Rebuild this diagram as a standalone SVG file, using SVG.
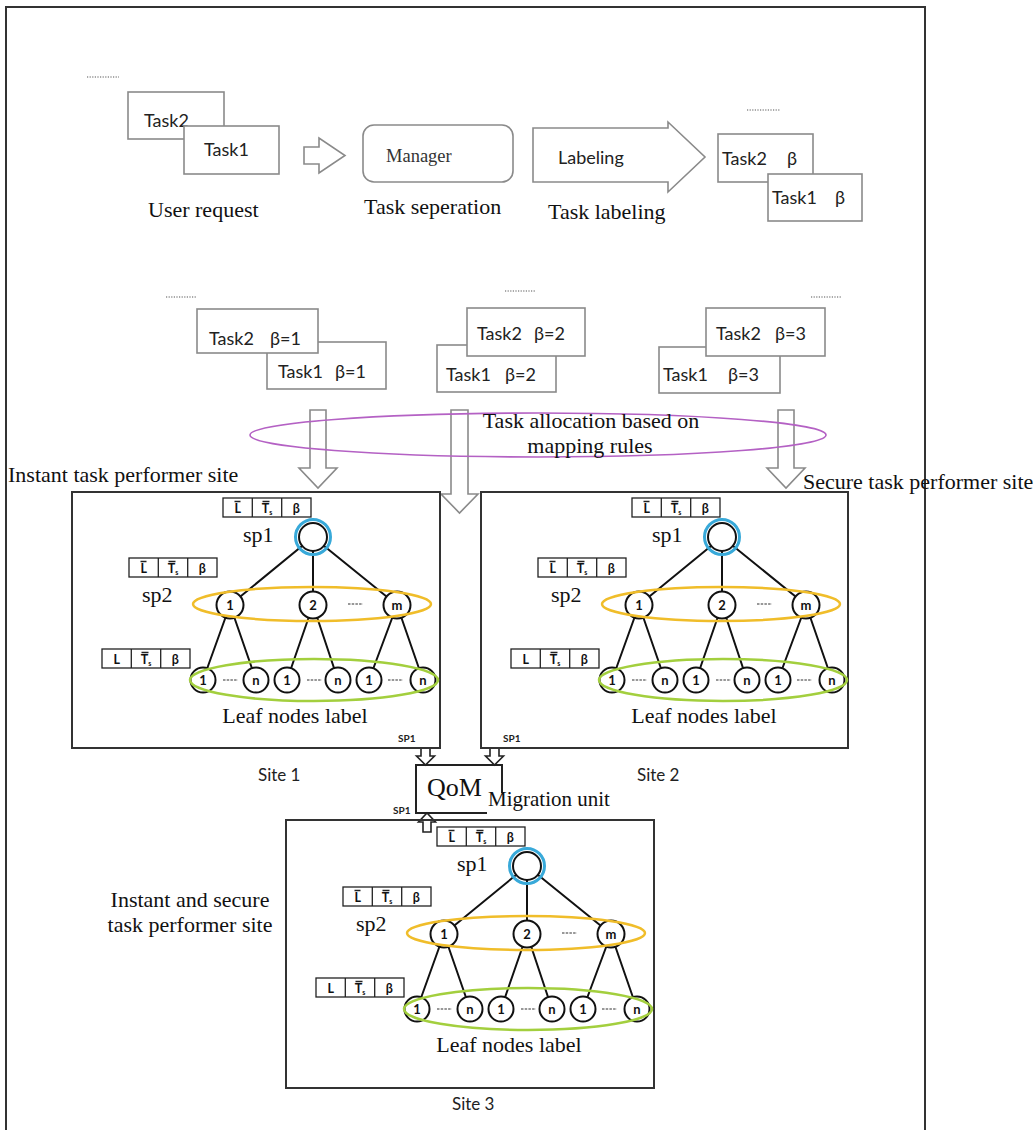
<svg xmlns="http://www.w3.org/2000/svg" xmlns:xlink="http://www.w3.org/1999/xlink" width="1036" height="1130" viewBox="0 0 1036 1130">
<style>
.tb{fill:#fff;stroke:#8a8a8a;stroke-width:1.6}
.ha{fill:#fff;stroke:#8a8a8a;stroke-width:1.6}
.sa{fill:#fff;stroke:#222;stroke-width:1.6}
.tk{font-family:Lato,'Noto Sans',sans-serif;font-size:18px;fill:#222}
.cap{font-family:'Liberation Serif',serif;font-size:22px;fill:#111}
.site{fill:none;stroke:#333;stroke-width:2}
.lbt{font-family:Lato,'Noto Sans',sans-serif;font-size:12.5px;font-weight:bold;text-anchor:middle;fill:#111}
.e{stroke:#111;stroke-width:2;fill:none}
.nd{fill:#fff;stroke:#111;stroke-width:2}
.nl{font-family:Lato,'Noto Sans',sans-serif;font-size:13px;font-weight:bold;text-anchor:middle;fill:#111}
.og{fill:none;stroke:#f0bd2a;stroke-width:2.5}
.gr{fill:none;stroke:#a3cf3e;stroke-width:2.5}
.bl{fill:none;stroke:#38a9d9;stroke-width:3}
.dash{stroke:#333;stroke-width:1.2;stroke-dasharray:2.5 1.2;fill:none}
.dots{stroke:#555;stroke-width:1.2;stroke-dasharray:1.2 1.4;fill:none}
.spl{font-family:Lato,'Noto Sans',sans-serif;font-weight:bold;font-size:10px;fill:#222}
.sp{font-family:'Liberation Serif',serif;font-size:22px;fill:#111}
.site-t{font-family:Lato,'Noto Sans',sans-serif;font-size:17px;fill:#222}
</style>
<defs>
<g id="lbA"><rect width="88" height="19" fill="#fff" stroke="#222" stroke-width="1.3"/><path d="M29.3 0V19M58.7 0V19M11.5 3.5h6M39.5 3.5h7" stroke="#222" stroke-width="1.3" fill="none"/></g>
<g id="lbB"><rect width="88" height="19" fill="#fff" stroke="#222" stroke-width="1.3"/><path d="M29.3 0V19M58.7 0V19M39.5 3.5h7" stroke="#222" stroke-width="1.3" fill="none"/></g>
</defs>

<path d="M6 1130V7H925V1130" fill="none" stroke="#333" stroke-width="2"/>

<g id="user-request">
<path class="dots" d="M87 77H119"/>
<rect class="tb" x="128" y="92" width="96" height="47"/>
<text class="tk" x="144" y="127">Task2</text>
<rect class="tb" x="184" y="126" width="95" height="48"/>
<text class="tk" x="204" y="156">Task1</text>
<text class="cap" x="148" y="217">User request</text>
</g>

<g id="manager">
<rect class="tb" x="363" y="125" width="150" height="57" rx="11"/>
<text x="386" y="162" font-family="'Liberation Serif',serif" font-size="18.5" fill="#333">Manager</text>
<text class="cap" x="364" y="214">Task seperation</text>
</g>

<g id="labeling">
<path class="ha" d="M533 128H668V122L705 157L668 192V182H533Z"/>
<text x="558" y="164" font-family="Lato,'Noto Sans',sans-serif" font-size="18" fill="#222">Labeling</text>
<text class="cap" x="548" y="219">Task labeling</text>
</g>

<g id="labeled-tasks">
<path class="dots" d="M747 110H780"/>
<rect class="tb" x="718" y="134" width="95" height="48"/>
<text class="tk" y="165"><tspan x="722">Task2</tspan><tspan x="787">β</tspan></text>
<rect class="tb" x="768" y="174" width="94" height="47"/>
<text class="tk" y="204"><tspan x="772">Task1</tspan><tspan x="835">β</tspan></text>
</g>

<g id="tasks-beta1">
<path class="dots" d="M166 297H197"/>
<rect class="tb" x="267" y="342" width="119" height="47"/>
<rect class="tb" x="197" y="309" width="121" height="44"/>
<text class="tk" y="345"><tspan x="209">Task2</tspan><tspan x="270">β=1</tspan></text>
<text class="tk" y="378"><tspan x="278">Task1</tspan><tspan x="335">β=1</tspan></text>
</g>

<g id="tasks-beta2">
<path class="dots" d="M505 291H536"/>
<rect class="tb" x="437" y="345" width="119" height="47"/>
<rect class="tb" x="467" y="308" width="118" height="48"/>
<text class="tk" y="340"><tspan x="477">Task2</tspan><tspan x="534">β=2</tspan></text>
<text class="tk" y="381"><tspan x="446">Task1</tspan><tspan x="505">β=2</tspan></text>
</g>

<g id="tasks-beta3">
<path class="dots" d="M811 297H842"/>
<rect class="tb" x="659" y="347" width="121" height="46"/>
<rect class="tb" x="706" y="308" width="119" height="48"/>
<text class="tk" y="340"><tspan x="716">Task2</tspan><tspan x="775">β=3</tspan></text>
<text class="tk" y="381"><tspan x="663">Task1</tspan><tspan x="728">β=3</tspan></text>
</g>

<g id="connectors">
<path class="ha" d="M304 147H319V138L345 155.5L319 173V164H304Z"/>
<path class="ha" d="M310 410V468H299L318 488L337 468H326V410Z"/>
<path class="ha" d="M451 410V494H441L459.5 513L478 494H468V410Z"/>
<path class="ha" d="M778 410V468H767L786 488L805 468H794V410Z"/>
<path class="sa" d="M421 748V756H416.5L425.5 765L434.5 756H430V748Z"/>
<path class="sa" d="M490 748V756H485.5L494.5 765L503.5 756H499V748Z"/>
<path class="sa" d="M423 832V822H418.5L427 813L435.5 822H431V832Z"/>
</g>

<g id="allocation">
<ellipse cx="538" cy="435" rx="288" ry="22" fill="none" stroke="#b461c4" stroke-width="1.6"/>
<text class="cap" x="591" y="428" text-anchor="middle">Task allocation based on</text>
<text class="cap" x="590" y="453" text-anchor="middle">mapping rules</text>
</g>

<text class="cap" x="8" y="482">Instant task performer site</text>
<text class="cap" x="803" y="489">Secure task performer site</text>

<g id="site1">
<rect class="site" x="72" y="492" width="368" height="256"/>
<use href="#lbA" x="223" y="498"/>
<text class="lbt" y="513"><tspan x="237.7">L</tspan><tspan x="267">T<tspan font-size="7" dy="2">s</tspan></tspan><tspan x="296.3" dy="-2">β</tspan></text>
<use href="#lbA" x="129" y="558"/>
<text class="lbt" y="573"><tspan x="143.7">L</tspan><tspan x="173">T<tspan font-size="7" dy="2">s</tspan></tspan><tspan x="202.3" dy="-2">β</tspan></text>
<use href="#lbB" x="102" y="649"/>
<text class="lbt" y="664"><tspan x="116.7">L</tspan><tspan x="146">T<tspan font-size="7" dy="2">s</tspan></tspan><tspan x="175.3" dy="-2">β</tspan></text>
<text class="sp" x="243" y="542">sp1</text>
<text class="sp" x="142" y="602">sp2</text>
<path class="e" d="M313 537L230 605M313 537V605M313 537L397 605M230 605L203 680M230 605L256 680M313 605L287 680M313 605L338 680M397 605L369 680M397 605L423 680"/>
<circle class="nd" cx="313" cy="537" r="14"/>
<circle class="bl" cx="313" cy="537" r="17.5"/>
<circle class="nd" cx="230" cy="605" r="13.5"/><text class="nl" x="230" y="609.5">1</text>
<circle class="nd" cx="313" cy="605" r="13.5"/><text class="nl" x="313" y="609.5">2</text>
<circle class="nd" cx="397" cy="605" r="13.5"/><text class="nl" x="397" y="609.5">m</text>
<circle class="nd" cx="203" cy="680" r="12.5"/><text class="nl" x="203" y="684.5">1</text>
<circle class="nd" cx="256" cy="680" r="12.5"/><text class="nl" x="256" y="684.5">n</text>
<circle class="nd" cx="287" cy="680" r="12.5"/><text class="nl" x="287" y="684.5">1</text>
<circle class="nd" cx="338" cy="680" r="12.5"/><text class="nl" x="338" y="684.5">n</text>
<circle class="nd" cx="369" cy="680" r="12.5"/><text class="nl" x="369" y="684.5">1</text>
<circle class="nd" cx="423" cy="680" r="12.5"/><text class="nl" x="423" y="684.5">n</text>
<path class="dash" d="M348 604h15M223 680h15M307 680h15M388 680h15"/>
<ellipse class="og" cx="312" cy="604" rx="119" ry="17"/>
<ellipse class="gr" cx="314" cy="680" rx="124" ry="21"/>
<text class="cap" x="295" y="723" text-anchor="middle">Leaf nodes label</text>
<text class="spl" x="398" y="742">SP1</text>
<text class="site-t" x="258" y="781">Site 1</text>
</g>

<g id="site2">
<rect class="site" x="481" y="492" width="367" height="256"/>
<use href="#lbA" x="632" y="498"/>
<text class="lbt" y="513"><tspan x="646.7">L</tspan><tspan x="676">T<tspan font-size="7" dy="2">s</tspan></tspan><tspan x="705.3" dy="-2">β</tspan></text>
<use href="#lbA" x="538" y="558"/>
<text class="lbt" y="573"><tspan x="552.7">L</tspan><tspan x="582">T<tspan font-size="7" dy="2">s</tspan></tspan><tspan x="611.3" dy="-2">β</tspan></text>
<use href="#lbB" x="511" y="649"/>
<text class="lbt" y="664"><tspan x="525.7">L</tspan><tspan x="555">T<tspan font-size="7" dy="2">s</tspan></tspan><tspan x="584.3" dy="-2">β</tspan></text>
<text class="sp" x="652" y="542">sp1</text>
<text class="sp" x="551" y="602">sp2</text>
<path class="e" d="M722 537L639 605M722 537V605M722 537L806 605M639 605L612 680M639 605L665 680M722 605L696 680M722 605L747 680M806 605L778 680M806 605L832 680"/>
<circle class="nd" cx="722" cy="537" r="14"/>
<circle class="bl" cx="722" cy="537" r="17.5"/>
<circle class="nd" cx="639" cy="605" r="13.5"/><text class="nl" x="639" y="609.5">1</text>
<circle class="nd" cx="722" cy="605" r="13.5"/><text class="nl" x="722" y="609.5">2</text>
<circle class="nd" cx="806" cy="605" r="13.5"/><text class="nl" x="806" y="609.5">m</text>
<circle class="nd" cx="612" cy="680" r="12.5"/><text class="nl" x="612" y="684.5">1</text>
<circle class="nd" cx="665" cy="680" r="12.5"/><text class="nl" x="665" y="684.5">n</text>
<circle class="nd" cx="696" cy="680" r="12.5"/><text class="nl" x="696" y="684.5">1</text>
<circle class="nd" cx="747" cy="680" r="12.5"/><text class="nl" x="747" y="684.5">n</text>
<circle class="nd" cx="778" cy="680" r="12.5"/><text class="nl" x="778" y="684.5">1</text>
<circle class="nd" cx="832" cy="680" r="12.5"/><text class="nl" x="832" y="684.5">n</text>
<path class="dash" d="M757 604h15M632 680h15M716 680h15M797 680h15"/>
<ellipse class="og" cx="721" cy="604" rx="119" ry="17"/>
<ellipse class="gr" cx="723" cy="680" rx="124" ry="21"/>
<text class="cap" x="704" y="723" text-anchor="middle">Leaf nodes label</text>
<text class="spl" x="503" y="742">SP1</text>
<text class="site-t" x="637" y="781">Site 2</text>
</g>

<g id="qom">
<path d="M487 813H416V765H502V793" fill="none" stroke="#222" stroke-width="2"/>
<text x="427" y="796" font-family="'Liberation Serif',serif" font-size="26" fill="#111">QoM</text>
<text x="488" y="806" font-family="'Liberation Serif',serif" font-size="21" fill="#111">Migration unit</text>
</g>

<g id="site3">
<rect class="site" x="286" y="820" width="368" height="268"/>
<use href="#lbA" x="437" y="827"/>
<text class="lbt" y="842"><tspan x="451.7">L</tspan><tspan x="481">T<tspan font-size="7" dy="2">s</tspan></tspan><tspan x="510.3" dy="-2">β</tspan></text>
<use href="#lbA" x="343" y="887"/>
<text class="lbt" y="902"><tspan x="357.7">L</tspan><tspan x="387">T<tspan font-size="7" dy="2">s</tspan></tspan><tspan x="416.3" dy="-2">β</tspan></text>
<use href="#lbB" x="316" y="978"/>
<text class="lbt" y="993"><tspan x="330.7">L</tspan><tspan x="360">T<tspan font-size="7" dy="2">s</tspan></tspan><tspan x="389.3" dy="-2">β</tspan></text>
<text class="sp" x="457" y="871">sp1</text>
<text class="sp" x="356" y="931">sp2</text>
<path class="e" d="M527 866L444 934M527 866V934M527 866L611 934M444 934L417 1009M444 934L470 1009M527 934L501 1009M527 934L552 1009M611 934L583 1009M611 934L637 1009"/>
<circle class="nd" cx="527" cy="866" r="14"/>
<circle class="bl" cx="527" cy="866" r="17.5"/>
<circle class="nd" cx="444" cy="934" r="13.5"/><text class="nl" x="444" y="938.5">1</text>
<circle class="nd" cx="527" cy="934" r="13.5"/><text class="nl" x="527" y="938.5">2</text>
<circle class="nd" cx="611" cy="934" r="13.5"/><text class="nl" x="611" y="938.5">m</text>
<circle class="nd" cx="417" cy="1009" r="12.5"/><text class="nl" x="417" y="1013.5">1</text>
<circle class="nd" cx="470" cy="1009" r="12.5"/><text class="nl" x="470" y="1013.5">n</text>
<circle class="nd" cx="501" cy="1009" r="12.5"/><text class="nl" x="501" y="1013.5">1</text>
<circle class="nd" cx="552" cy="1009" r="12.5"/><text class="nl" x="552" y="1013.5">n</text>
<circle class="nd" cx="583" cy="1009" r="12.5"/><text class="nl" x="583" y="1013.5">1</text>
<circle class="nd" cx="637" cy="1009" r="12.5"/><text class="nl" x="637" y="1013.5">n</text>
<path class="dash" d="M562 933h15M437 1009h15M521 1009h15M602 1009h15"/>
<ellipse class="og" cx="526" cy="933" rx="119" ry="17"/>
<ellipse class="gr" cx="528" cy="1009" rx="124" ry="21"/>
<text class="cap" x="509" y="1052" text-anchor="middle">Leaf nodes label</text>
<text class="spl" x="393" y="814">SP1</text>
<text class="cap" x="190" y="907" text-anchor="middle">Instant and secure</text>
<text class="cap" x="190" y="932" text-anchor="middle">task performer site</text>
<text class="site-t" x="452" y="1110">Site 3</text>
</g>
</svg>
